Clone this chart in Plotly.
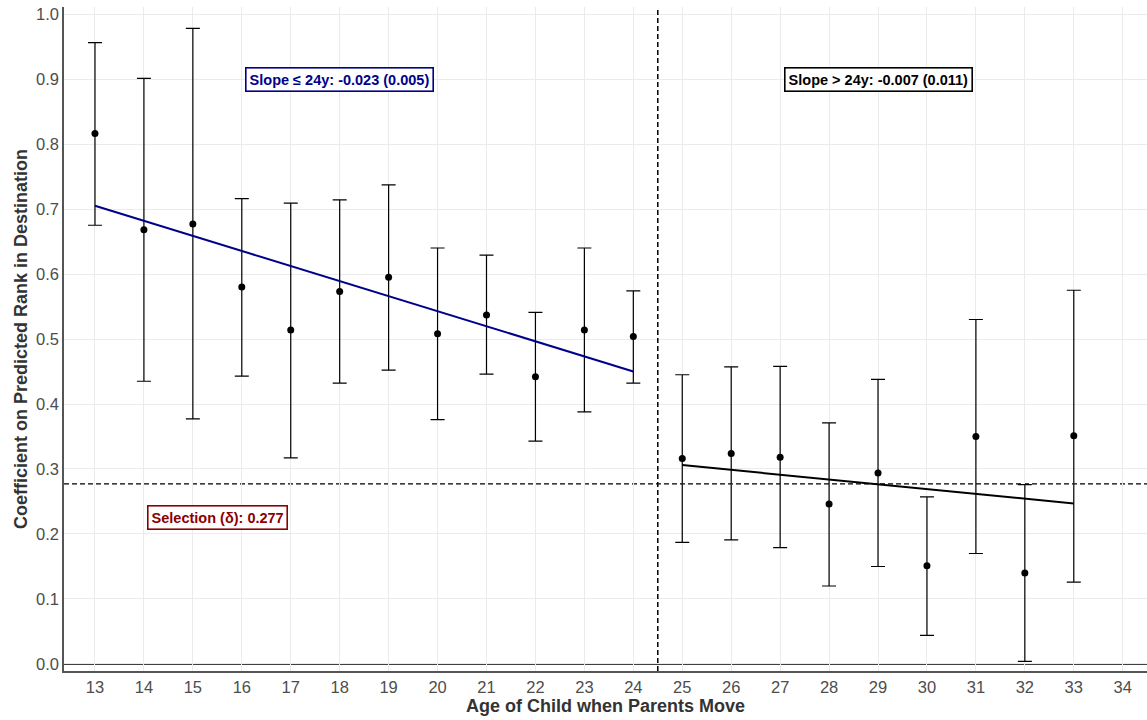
import plotly.graph_objects as go

# ---- data ----
ages = [13, 14, 15, 16, 17, 18, 19, 20, 21, 22, 23, 24,
        25, 26, 27, 28, 29, 30, 31, 32, 33]
coef = [0.816, 0.668, 0.677, 0.580, 0.514, 0.573, 0.595, 0.508, 0.537, 0.442, 0.514, 0.504,
        0.316, 0.324, 0.318, 0.246, 0.294, 0.151, 0.350, 0.140, 0.351]
upper = [0.956, 0.901, 0.978, 0.716, 0.709, 0.714, 0.737, 0.640, 0.629, 0.541, 0.640, 0.574,
         0.445, 0.457, 0.458, 0.371, 0.438, 0.257, 0.530, 0.276, 0.575]
lower = [0.675, 0.435, 0.377, 0.443, 0.317, 0.432, 0.452, 0.376, 0.446, 0.343, 0.388, 0.432,
         0.187, 0.191, 0.179, 0.120, 0.150, 0.044, 0.170, 0.004, 0.126]

fit_pre_x = [13, 24]
fit_pre_y = [0.705, 0.450]
fit_post_x = [25, 33]
fit_post_y = [0.306, 0.247]

selection = 0.277
cutoff = 24.5
x_ticks = list(range(13, 35))
y_ticks = [0.0, 0.1, 0.2, 0.3, 0.4, 0.5, 0.6, 0.7, 0.8, 0.9, 1.0]

label_pre = "Slope ≤ 24y: -0.023 (0.005)"
label_post = "Slope > 24y: -0.007 (0.011)"
label_sel = "Selection (δ): 0.277"

FONT = "Liberation Sans, Arial, Helvetica, sans-serif"
NAVY = "#00008B"
DARKRED = "#8B0000"

fig = go.Figure()

fig.add_trace(go.Scatter(
    x=ages, y=coef, mode="markers",
    marker=dict(color="black", size=7),
    error_y=dict(type="data", symmetric=False,
                 array=[u - c for u, c in zip(upper, coef)],
                 arrayminus=[c - l for c, l in zip(coef, lower)],
                 color="black", thickness=1.2, width=7),
    showlegend=False, hoverinfo="skip"))

fig.add_trace(go.Scatter(x=fit_pre_x, y=fit_pre_y, mode="lines",
                         line=dict(color=NAVY, width=2), showlegend=False))
fig.add_trace(go.Scatter(x=fit_post_x, y=fit_post_y, mode="lines",
                         line=dict(color="black", width=2), showlegend=False))

# reference lines
fig.add_hline(y=selection, line=dict(color="black", width=1.3, dash="5px,3px"), layer="below")
fig.add_vline(x=cutoff, line=dict(color="black", width=1.5, dash="5px,3px"))
fig.add_hline(y=0, line=dict(color="black", width=1.6), layer="below")

def box(x, y, text, color):
    fig.add_annotation(x=x, y=y, text="<b>" + text + "</b>", showarrow=False,
                       font=dict(family=FONT, size=14.5, color=color),
                       bgcolor="white", bordercolor=color, borderwidth=1.6, borderpad=3)

box(18, 0.9, label_pre, NAVY)
box(29, 0.9, label_post, "black")
box(15.5, 0.225, label_sel, DARKRED)

fig.update_layout(
    width=1147, height=720,
    margin=dict(l=64, r=0, t=7, b=49),
    plot_bgcolor="white", paper_bgcolor="white",
    font=dict(family=FONT),
    xaxis=dict(range=[12.367, 34.496], tickmode="array", tickvals=x_ticks,
               ticktext=[str(v) for v in x_ticks],
               showgrid=True, gridcolor="#EBEBEB", gridwidth=1, zeroline=False,
               showline=True, linecolor="#555555", linewidth=1.5,
               ticks="", tickfont=dict(size=16.5, color="#4D4D4D"),
               title=dict(text="<b>Age of Child when Parents Move</b>",
                          font=dict(size=18, color="#333333"), standoff=2)),
    yaxis=dict(range=[-0.0108, 1.0108], tickmode="array", tickvals=y_ticks,
               ticktext=[f"{v:.1f}" for v in y_ticks],
               showgrid=True, gridcolor="#EBEBEB", gridwidth=1, zeroline=False,
               showline=True, linecolor="#555555", linewidth=1.5,
               ticks="", tickfont=dict(size=16.5, color="#4D4D4D"),
               title=dict(text="<b>Coefficient on Predicted Rank in Destination</b>",
                          font=dict(size=18, color="#333333"), standoff=4)),
)

fig.write_html("out.html")
